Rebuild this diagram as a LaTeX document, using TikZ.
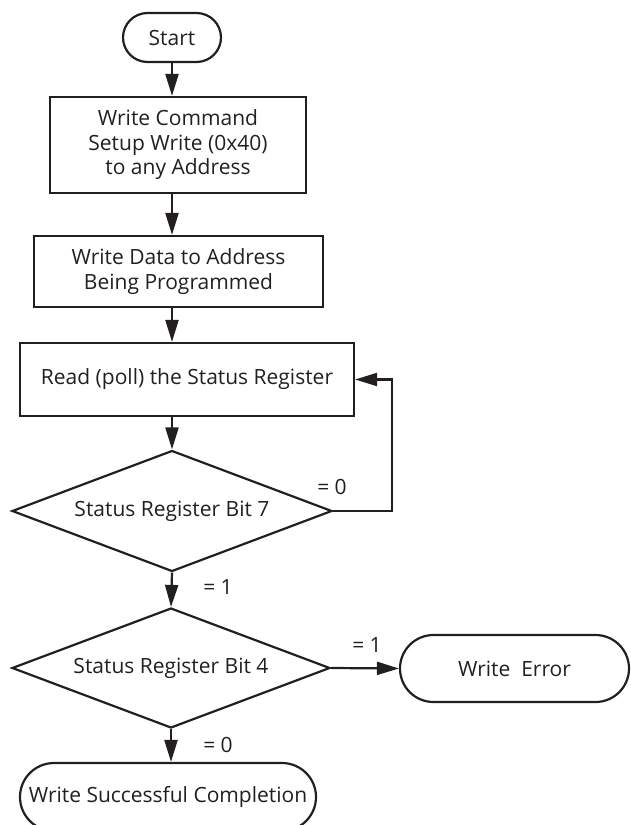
\documentclass[tikz,border=0pt]{standalone}
\usepackage{fontspec}
\setmainfont{Open Sans}
\usetikzlibrary{shapes.misc,shapes.geometric,arrows.meta}
\definecolor{ink}{HTML}{231F20}
\begin{document}
\begin{tikzpicture}[x=1pt,y=-1pt,
  every node/.style={text=ink,font=\fontsize{21}{24.5}\selectfont},
  flow/.style={draw=ink,line width=2.2pt},
  proc/.style={flow,rectangle,align=center,inner sep=0pt},
  term/.style={flow,rounded rectangle,inner sep=0pt},
  decide/.style={flow,diamond,inner sep=0pt},
  conn/.style={draw=ink,line width=2.2pt,-{Triangle[length=22pt,width=13pt]}},
  lbl/.style={inner sep=0pt}]
\useasboundingbox (0,0) rectangle (631,825);
\node[term,minimum width=98pt,minimum height=49pt] (start) at (172,37.5) {Start};
\node[proc,minimum width=256pt,minimum height=96pt] (b1) at (178,145) {Write Command\\Setup Write (0x40)\\to any Address};
\node[proc,minimum width=289pt,minimum height=71pt] (b2) at (178.5,271.5) {Write Data to Address\\Being Programmed};
\node[proc,minimum width=334pt,minimum height=73pt] (b3) at (187,379.5) {Read (poll) the Status Register};
\node[decide,minimum width=320pt,minimum height=121pt,aspect=2.64] (d1) at (172,511) {Status Register Bit 7};
\node[decide,minimum width=318pt,minimum height=120pt,aspect=2.65] (d2) at (171,668) {Status Register Bit 4};
\node[term,minimum width=229pt,minimum height=67pt] (err) at (514.5,668.5) {Write~~Error};
\node[term,minimum width=296pt,minimum height=68pt] (done) at (168,797) {Write Successful Completion};
\coordinate (loop) at (392,379.5);
\node[lbl] (l0a) at (332,487) {= 0};
\node[lbl] (l1a) at (218,587) {= 1};
\node[lbl] (l1b) at (367,645) {= 1};
\node[lbl] (l0b) at (218,745) {= 0};
\draw[conn] (start.south) -- (start.south |- b1.north);
\draw[conn] (start.south |- b1.south) -- (start.south |- b2.north);
\draw[conn] (start.south |- b2.south) -- (start.south |- b3.north);
\draw[conn] (start.south |- b3.south) -- (d1.north);
\draw[conn] (d1.south) -- (d2.north);
\draw[conn] (d2.south) -- (d2.south |- done.north);
\draw[conn] (d2.east) -- (err.west);
\draw[conn] (d1.east) -| (loop) -- (b3.east);
\end{tikzpicture}
\end{document}
